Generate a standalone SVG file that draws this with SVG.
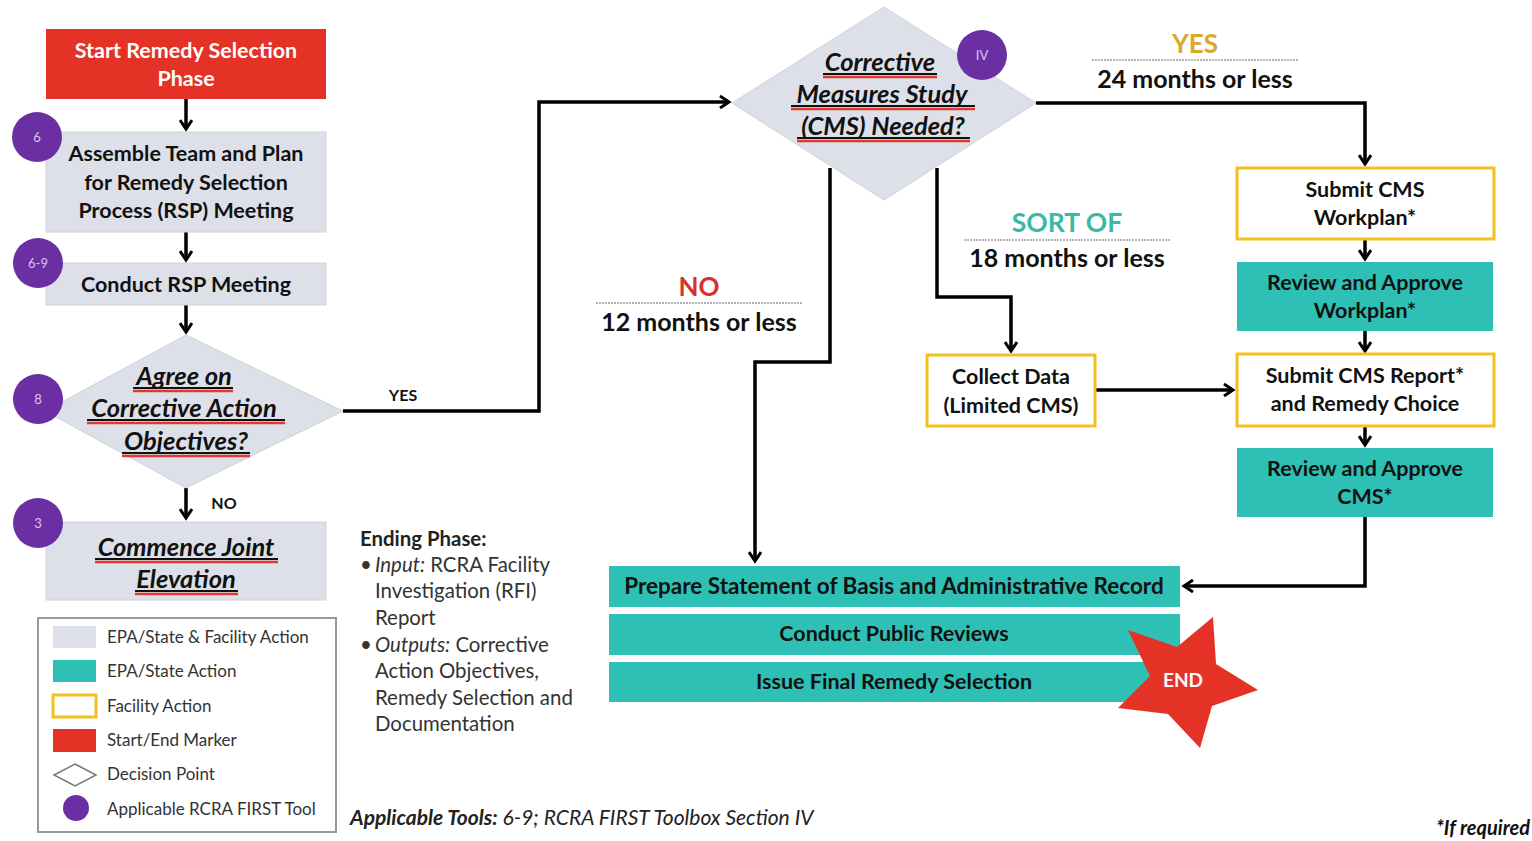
<svg xmlns="http://www.w3.org/2000/svg" width="1532" height="841" viewBox="0 0 1532 841">
<defs>
<marker id="arr" markerWidth="14" markerHeight="14" refX="11" refY="7" orient="auto" markerUnits="userSpaceOnUse">
<polyline points="2,1 11,7 2,13" fill="none" stroke="#000" stroke-width="3"/>
</marker>
<style>
.t{font-family:Lato,"Open Sans",sans-serif;font-weight:700;fill:#111;text-anchor:middle}
.tb{font-size:21.5px}
.ti{font-family:Lato,"Open Sans",sans-serif;font-weight:700;font-style:italic;fill:#111;text-anchor:middle;font-size:25.5px}
.gray{fill:#dde0e8;stroke:#cfd2da;stroke-width:1}
.teal{fill:#2ec0b4}
.yel{fill:#fff;stroke:#f2c11f;stroke-width:3}
.red{fill:#e43326}
.circ{fill:#6b2fa3}
.ct{font-family:Lato,sans-serif;font-size:13px;fill:#d8c8f0;text-anchor:middle}
.con{fill:none;stroke:#000;stroke-width:3.5}
.ul{stroke:#111;stroke-width:1.8}
.ur{stroke:#e03a2e;stroke-width:2.5}
.lg{font-family:Lato,"Open Sans",sans-serif;font-size:17px;fill:#333}
.dot{stroke:#999;stroke-width:1.5;stroke-dasharray:2 1}
.body{font-family:Lato,"Open Sans",sans-serif;font-size:20.4px;fill:#333}
.lbl{font-size:25px}
</style>
</defs>

<g id="connectors">
<path class="con" d="M186,99 V129" marker-end="url(#arr)"/>
<path class="con" d="M186,232 V260" marker-end="url(#arr)"/>
<path class="con" d="M186,305 V332" marker-end="url(#arr)"/>
<path class="con" d="M343,411 H539 V102 H729" marker-end="url(#arr)"/>
<path class="con" d="M186,488 V518" marker-end="url(#arr)"/>
<path class="con" d="M1036,103 H1365 V164" marker-end="url(#arr)"/>
<path class="con" d="M830,168 V362 H755 V561" marker-end="url(#arr)"/>
<path class="con" d="M937,168 V297 H1011 V351" marker-end="url(#arr)"/>
<path class="con" d="M1095,390 H1233" marker-end="url(#arr)"/>
<path class="con" d="M1365,239 V259" marker-end="url(#arr)"/>
<path class="con" d="M1365,331 V351" marker-end="url(#arr)"/>
<path class="con" d="M1365,426 V445" marker-end="url(#arr)"/>
<path class="con" d="M1365,517 V586 H1184" marker-end="url(#arr)"/>
<text class="t" x="403" y="401" font-size="16">YES</text>
<text class="t" x="224" y="509" font-size="16">NO</text>
<text class="t" x="1195" y="53" font-size="26" style="fill:#d9a92a">YES</text>
<line class="dot" x1="1092" y1="60" x2="1299" y2="60"/>
<text class="t lbl" x="1195" y="88">24 months or less</text>
<text class="t" x="1067" y="232" font-size="26.5" style="fill:#3bb8a8">SORT OF</text>
<line class="dot" x1="964" y1="240" x2="1171" y2="240"/>
<text class="t lbl" x="1067" y="267">18 months or less</text>
<text class="t" x="699" y="296" font-size="26" style="fill:#d9322a">NO</text>
<line class="dot" x1="596" y1="303" x2="802" y2="303"/>
<text class="t lbl" x="699" y="331">12 months or less</text>
</g>

<g id="start">
<rect class="red" x="46" y="29" width="280" height="70"/>
<text class="t tb" x="186" y="58" style="fill:#fff">Start Remedy Selection</text>
<text class="t tb" x="186" y="86" style="fill:#fff">Phase</text>
</g>

<g id="assemble">
<rect class="gray" x="46" y="132" width="280" height="100"/>
<text class="t tb" x="186" y="161">Assemble Team and Plan</text>
<text class="t tb" x="186" y="190">for Remedy Selection</text>
<text class="t tb" x="186" y="218">Process (RSP) Meeting</text>
<circle class="circ" cx="37" cy="137" r="25"/>
<text class="ct" x="37" y="142">6</text>
</g>

<g id="conduct">
<rect class="gray" x="46" y="263" width="280" height="42"/>
<text class="t tb" x="186" y="292">Conduct RSP Meeting</text>
<circle class="circ" cx="38" cy="263" r="25"/>
<text class="ct" x="38" y="268">6-9</text>
</g>

<g id="agree">
<polygon class="gray" points="186,335 343,411 186,488 45,411"/>
<text class="ti" x="184" y="385">Agree on</text>
<text class="ti" x="184" y="417">Corrective Action</text>
<text class="ti" x="186" y="450">Objectives?</text>
<line class="ul" x1="133" y1="388" x2="233" y2="388"/><line class="ur" x1="133" y1="391" x2="233" y2="391"/>
<line class="ul" x1="87" y1="420" x2="285" y2="420"/><line class="ur" x1="87" y1="423" x2="285" y2="423"/>
<line class="ul" x1="122" y1="453" x2="250" y2="453"/><line class="ur" x1="122" y1="456" x2="250" y2="456"/>
<circle class="circ" cx="38" cy="399" r="25"/>
<text class="ct" x="38" y="404">8</text>
</g>

<g id="commence">
<rect class="gray" x="46" y="522" width="280" height="78"/>
<text class="ti" x="186" y="556">Commence Joint</text>
<text class="ti" x="186" y="588">Elevation</text>
<line class="ul" x1="95" y1="559" x2="278" y2="559"/><line class="ur" x1="95" y1="562" x2="278" y2="562"/>
<line class="ul" x1="135" y1="591" x2="238" y2="591"/><line class="ur" x1="135" y1="594" x2="238" y2="594"/>
<circle class="circ" cx="38" cy="523" r="25"/>
<text class="ct" x="38" y="528">3</text>
</g>

<g id="cms">
<polygon class="gray" points="884,7 1036,103 884,200 732,103"/>
<text class="ti" x="880" y="71">Corrective</text>
<text class="ti" x="882" y="103">Measures Study</text>
<text class="ti" x="883" y="135">(CMS) Needed?</text>
<line class="ul" x1="823" y1="74" x2="937" y2="74"/><line class="ur" x1="823" y1="77" x2="937" y2="77"/>
<line class="ul" x1="791" y1="106" x2="975" y2="106"/><line class="ur" x1="791" y1="109" x2="975" y2="109"/>
<line class="ul" x1="797" y1="138" x2="970" y2="138"/><line class="ur" x1="797" y1="141" x2="970" y2="141"/>
<circle class="circ" cx="982" cy="55" r="25"/>
<text class="ct" x="982" y="60">IV</text>
</g>

<g id="workplan">
<rect class="yel" x="1237" y="168" width="257" height="71"/>
<text class="t tb" x="1365" y="197">Submit CMS</text>
<text class="t tb" x="1365" y="225">Workplan*</text>
</g>

<g id="review-workplan">
<rect class="teal" x="1237" y="262" width="256" height="69"/>
<text class="t tb" x="1365" y="290">Review and Approve</text>
<text class="t tb" x="1365" y="318">Workplan*</text>
</g>

<g id="collect">
<rect class="yel" x="927" y="355" width="168" height="71"/>
<text class="t tb" x="1011" y="384">Collect Data</text>
<text class="t tb" x="1011" y="413">(Limited CMS)</text>
</g>

<g id="report">
<rect class="yel" x="1237" y="354" width="257" height="72"/>
<text class="t tb" x="1365" y="383">Submit CMS Report*</text>
<text class="t tb" x="1365" y="411">and Remedy Choice</text>
</g>

<g id="review-cms">
<rect class="teal" x="1237" y="448" width="256" height="69"/>
<text class="t tb" x="1365" y="476">Review and Approve</text>
<text class="t tb" x="1365" y="504">CMS*</text>
</g>

<g id="prepare">
<rect class="teal" x="609" y="566" width="571" height="41"/>
<text class="t" x="894" y="594" font-size="22.5">Prepare Statement of Basis and Administrative Record</text>
</g>

<g id="public">
<rect class="teal" x="609" y="614" width="571" height="41"/>
<text class="t tb" x="894" y="641">Conduct Public Reviews</text>
</g>

<g id="issue">
<rect class="teal" x="609" y="662" width="571" height="40"/>
<text class="t tb" x="894" y="689">Issue Final Remedy Selection</text>
</g>

<g id="end">
<polygon class="red" points="1128,630 1177,647 1213,617 1216,664 1258,690 1212,706 1200,748 1168,714 1118,708 1150,676"/>
<text class="t" x="1183" y="687" font-size="19" style="fill:#fff">END</text>
</g>

<g id="legend">
<rect x="38" y="618" width="298" height="214" fill="#fff" stroke="#999" stroke-width="2"/>
<rect x="53" y="626" width="43" height="22" fill="#dde0e8"/>
<rect x="53" y="660" width="43" height="22" fill="#2ec0b4"/>
<rect x="53" y="695" width="43" height="22" fill="#fff" stroke="#f2c11f" stroke-width="3"/>
<rect x="53" y="729" width="43" height="23" fill="#e43326"/>
<polygon points="75,764 96,775 75,786 54,775" fill="#fff" stroke="#777" stroke-width="1.5"/>
<circle cx="76" cy="808" r="13" fill="#6b2fa3"/>
<text class="lg" x="107" y="643">EPA/State &amp; Facility Action</text>
<text class="lg" x="107" y="677">EPA/State Action</text>
<text class="lg" x="107" y="712">Facility Action</text>
<text class="lg" x="107" y="746">Start/End Marker</text>
<text class="lg" x="107" y="780">Decision Point</text>
<text class="lg" x="107" y="815">Applicable RCRA FIRST Tool</text>
</g>

<g id="notes">
<text class="body" x="360" y="546" font-weight="700" style="fill:#222">Ending Phase:</text>
<text class="body" x="360" y="572">•</text>
<text class="body" x="375" y="572"><tspan font-style="italic">Input:</tspan> RCRA Facility</text>
<text class="body" x="375" y="598">Investigation (RFI)</text>
<text class="body" x="375" y="625">Report</text>
<text class="body" x="360" y="652">•</text>
<text class="body" x="375" y="652"><tspan font-style="italic">Outputs:</tspan> Corrective</text>
<text class="body" x="375" y="678">Action Objectives,</text>
<text class="body" x="375" y="705">Remedy Selection and</text>
<text class="body" x="375" y="731">Documentation</text>
<text x="350" y="825" font-family="Lato,sans-serif" font-size="21" fill="#222"><tspan font-weight="700" font-style="italic">Applicable Tools:</tspan><tspan font-style="italic"> 6-9; RCRA FIRST Toolbox Section IV</tspan></text>
<text x="1530" y="835" font-family="Lato,sans-serif" font-size="20" font-weight="700" font-style="italic" fill="#111" text-anchor="end">*If required</text>
</g>
</svg>
